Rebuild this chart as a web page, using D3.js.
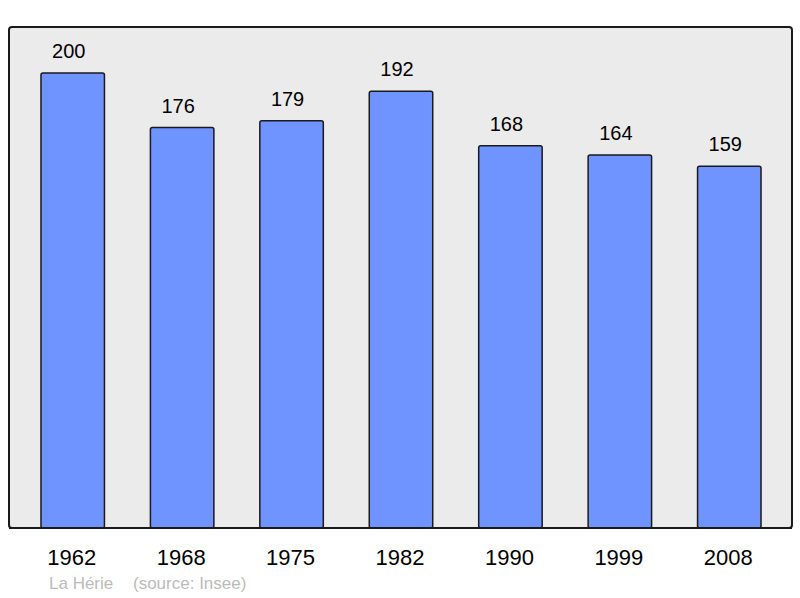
<!DOCTYPE html>
<html>
<head>
<meta charset="utf-8">
<script src="https://cdn.jsdelivr.net/npm/d3@7"></script>
<style>
  body { margin: 0; background: #fff; }
  svg { display: block; font-family: "Liberation Sans", Arial, sans-serif; }
</style>
</head>
<body>
<svg id="chart" width="800" height="598"></svg>
<script>
const years = ['1962', '1968', '1975', '1982', '1990', '1999', '2008']
const population = [200, 176, 179, 192, 168, 164, 159]
const commune = 'La Hérie'
const source = '(source: Insee)'

const svg = d3.select('#chart')
const frame = { left: 9, top: 27, right: 792, bottom: 528 }

svg.append('rect')
  .attr('x', frame.left)
  .attr('y', frame.top)
  .attr('width', frame.right - frame.left)
  .attr('height', frame.bottom - frame.top)
  .attr('rx', 3)
  .attr('fill', '#ebebeb')
  .attr('stroke', '#1a1a1a')
  .attr('stroke-width', 2)

const x = d3.scaleBand()
  .domain(years)
  .range([18, 784])
  .paddingInner(0.42)
  .paddingOuter(0.21)

const y = d3.scaleLinear()
  .domain([0, 200])
  .range([frame.bottom, 73])

const data = years.map((yr, i) => ({ year: yr, value: population[i] }))

svg.selectAll('.bar')
  .data(data)
  .enter()
    .append('rect')
    .attr('class', 'bar')
    .attr('x', d => x(d.year))
    .attr('y', d => y(d.value))
    .attr('width', x.bandwidth())
    .attr('height', d => frame.bottom - y(d.value))
    .attr('rx', 2)
    .attr('fill', '#7094ff')
    .attr('stroke', '#1a1a1a')
    .attr('stroke-width', 1.5)

// value labels sit a little left of the bar centre, like the original
svg.selectAll('.val')
  .data(data)
  .enter()
    .append('text')
    .attr('class', 'val')
    .attr('x', d => x(d.year) + x.bandwidth() / 2 - 4)
    .attr('y', d => y(d.value) - 15)
    .attr('text-anchor', 'middle')
    .attr('font-size', 20)
    .attr('fill', '#000')
    .text(d => d.value)

// redraw bottom frame line over bar strokes
svg.append('line')
  .attr('x1', frame.left).attr('x2', frame.right)
  .attr('y1', frame.bottom).attr('y2', frame.bottom)
  .attr('stroke', '#1a1a1a').attr('stroke-width', 2)

svg.append('g')
  .attr('transform', `translate(-1,${frame.bottom})`)
  .call(d3.axisBottom(x).tickSize(0).tickPadding(0))
  .call(g => g.select('.domain').remove())
  .selectAll('text')
    .attr('y', 37)
    .attr('dy', 0)
    .attr('font-size', 22)
    .attr('font-family', '"Liberation Sans", Arial, sans-serif')
    .attr('fill', '#000')

svg.append('text')
  .attr('x', 49).attr('y', 589)
  .attr('font-size', 17).attr('fill', '#bbbbbb')
  .text(commune)

svg.append('text')
  .attr('x', 133).attr('y', 589)
  .attr('font-size', 17).attr('fill', '#bbbbbb')
  .text(source)
</script>
</body>
</html>
